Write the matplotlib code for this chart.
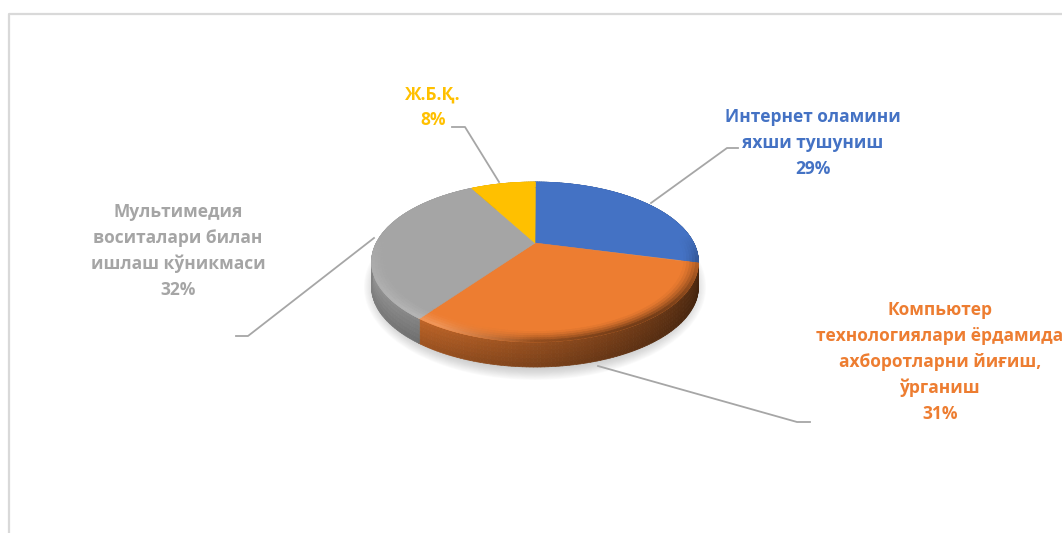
import numpy as np
import matplotlib
matplotlib.use('Agg')
import matplotlib.pyplot as plt
from matplotlib.collections import PolyCollection
from matplotlib.colors import to_rgb
from matplotlib.patches import Ellipse, Polygon

# Data
categories = ['Интернет оламини\nяхши тушуниш',
              'Компьютер\nтехнологиялари ёрдамида\nахборотларни йиғиш,\nўрганиш',
              'Мультимедия\nвоситалари билан\nишлаш кўникмаси',
              'Ж.Б.Қ.']
shares = [29, 31, 32, 8]
colors = ['#4472C4', '#ED7D31', '#A5A5A5', '#FFC000']

# Layout of the tilted pie, in pixels
CX, CY = 535, 243
SX, SY, TILT = 158.8, 17.8, -0.2375
DEPTH = 25

label_pos = [(813, 143), (940, 362), (178, 251), (433, 107)]
leaders = [[(651, 203), (727, 148), (738, 148)],
           [(598, 366), (797, 422), (810, 422)],
           [(374, 238), (248, 336), (236, 336)],
           [(499, 182), (465, 127), (452, 127)]]

plt.rcParams['font.family'] = ['Open Sans', 'DejaVu Sans']


def project(theta, r=1.0):
    # theta in degrees, clockwise from the top of the pie
    t = np.radians(theta)
    x, y = r * np.sin(t), -r * np.cos(t)
    w = 1 + TILT * y
    return CX + SX * x / w, (CY + SY * y) / w


def mix(a, b, t):
    return tuple((1 - t) * np.array(a) + t * np.array(b))


def side_shade(theta, color):
    # light comes from the left, the right side falls into dark
    x = np.sin(np.radians(theta))
    return mix((0, 0, 0), color, np.clip(0.62 - 0.30 * x, 0.3, 0.95))


fig = plt.figure(figsize=(10.62, 5.33), dpi=100)
ax = fig.add_axes([0, 0, 1, 1])
ax.set_xlim(0, 1062)
ax.set_ylim(533, 0)
ax.axis('off')

# Frame of the chart area, only left and top show
ax.plot([8.5, 8.5, 1062], [533, 13.5, 13.5], color='#d9d9d9', lw=1.6, zorder=1)

# Soft shadow under the pie
for k in range(14):
    grow = 1 - k / 14
    ax.add_patch(Ellipse((535, 287), 2 * (156 + 15 * grow), 2 * (80 + 13 * grow),
                         facecolor='#8c8c8c', edgecolor='none', alpha=0.035, zorder=2))

edges = np.concatenate([[0], np.cumsum(shares)]) / np.sum(shares) * 360

# Side wall, darker towards its lower edge
levels = np.linspace(0, DEPTH, 7)
for i, color in enumerate(colors):
    base = to_rgb(color)
    angles = np.arange(edges[i], edges[i + 1] + 0.5, 1.0)
    polys, faces = [], []
    for j, (d0, d1) in enumerate(zip(levels[:-1], levels[1:])):
        for a0, a1 in zip(angles[:-1], angles[1:]):
            x0, y0 = project(a0)
            x1, y1 = project(a1)
            polys.append([(x0, y0 + d0), (x1, y1 + d0), (x1, y1 + d1), (x0, y0 + d1)])
            faces.append(mix(side_shade((a0 + a1) / 2, base), (0, 0, 0), 0.03 * j))
    ax.add_collection(PolyCollection(polys, facecolors=faces, edgecolors=faces,
                                     linewidths=0.5, zorder=3))

# Top face
for i, color in enumerate(colors):
    angles = np.arange(edges[i], edges[i + 1] + 0.5, 1.0)
    rim = [project(a) for a in angles]
    ax.add_patch(Polygon([project(0, 0)] + rim, closed=True, facecolor=color,
                         edgecolor=color, lw=0.4, zorder=4))

# Rounded rim between top and side, lit on the left, shaded on the right
radii = np.linspace(0.90, 1.0, 7)
for i, color in enumerate(colors):
    base = to_rgb(color)
    angles = np.arange(edges[i], edges[i + 1] + 0.5, 1.0)
    polys, faces = [], []
    for j, (r0, r1) in enumerate(zip(radii[:-1], radii[1:])):
        for a0, a1 in zip(angles[:-1], angles[1:]):
            mid = (a0 + a1) / 2
            front = np.clip(-np.cos(np.radians(mid)) + 0.1, 0, 1)
            t = (j / (len(radii) - 2)) ** 1.5 * front
            x = np.sin(np.radians(mid))
            lit = np.clip(-x / 0.5, 0, 1)
            target = mix(side_shade(mid, base), mix(base, (1, 1, 1), 0.2), lit)
            polys.append([project(a0, r0), project(a1, r0), project(a1, r1), project(a0, r1)])
            faces.append(mix(base, target, t))
    ax.add_collection(PolyCollection(polys, facecolors=faces, edgecolors=faces,
                                     linewidths=0.4, zorder=5))

# Leader lines and labels
for pts in leaders:
    xs, ys = zip(*pts)
    ax.plot(xs, ys, color='#a6a6a6', lw=1.3, zorder=6)

for name, share, color, (lx, ly) in zip(categories, shares, colors, label_pos):
    ax.text(lx, ly, f'{name}\n{share}%', color=color, fontsize=12.5, fontweight='bold',
            ha='center', va='center', linespacing=1.55, zorder=7)

fig.savefig('out.png', dpi=100)
